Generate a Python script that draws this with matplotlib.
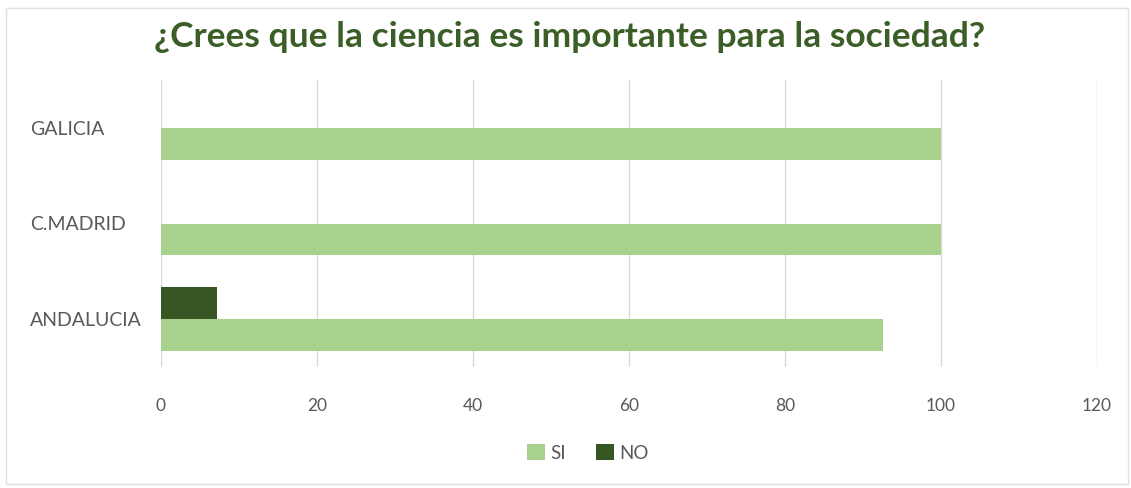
import numpy as np
import matplotlib
matplotlib.use('Agg')
import matplotlib.pyplot as plt
from matplotlib.patches import Rectangle

# data
regiones = ['ANDALUCIA', 'C.MADRID', 'GALICIA']
si = [92.6, 100, 100]
no = [7.2, 0, 0]

color_si = '#a9d18e'
color_no = '#375623'
gris = '#595959'

plt.rcParams['font.family'] = ['Lato', 'DejaVu Sans']

fig = plt.figure(figsize=(11.31, 4.88), dpi=100)
ax = fig.add_axes([161/1131, 1 - 367/488, 936/1131, 287/488])

y = np.arange(len(regiones))
h = 1/3
ax.barh(y - h/2, si, height=h, color=color_si, label='SI', zorder=3)
ax.barh(y + h/2, no, height=h, color=color_no, label='NO', zorder=3)

ax.set_xlim(0, 120)
ax.set_ylim(-0.5, 2.5)
ax.set_xticks(range(0, 121, 20))
ax.set_yticks(y)
ax.set_yticklabels(regiones)
ax.tick_params(axis='both', length=0, colors=gris)
ax.tick_params(axis='x', pad=22, labelsize=12.5)
# labels left aligned at x=30px
ax.tick_params(axis='y', pad=(161 - 30) * 0.72, labelsize=14)
for lab in ax.get_yticklabels():
    lab.set_ha('left')
ax.grid(axis='x', color='#d9d9d9', linewidth=1, zorder=0)
for s in ax.spines.values():
    s.set_visible(False)

fig.text(570/1131, 1 - 37/488, '¿Crees que la ciencia es importante para la sociedad?',
         ha='center', va='center', fontsize=25.5, fontweight='bold', color='#3b5e27')

fig.legend(loc='center', bbox_to_anchor=(588/1131, 1 - 453/488), ncol=2, frameon=False,
           fontsize=13.5, labelcolor=gris, handlelength=0.95, handleheight=0.95,
           handletextpad=0.3, columnspacing=1.6)

# light border around the chart
fig.patches.append(Rectangle((6/1131, 4/488), 1122/1131, 476/488, transform=fig.transFigure,
                             fill=False, edgecolor='#e0e0e0', linewidth=1))

plt.savefig('out.png', dpi=100)
